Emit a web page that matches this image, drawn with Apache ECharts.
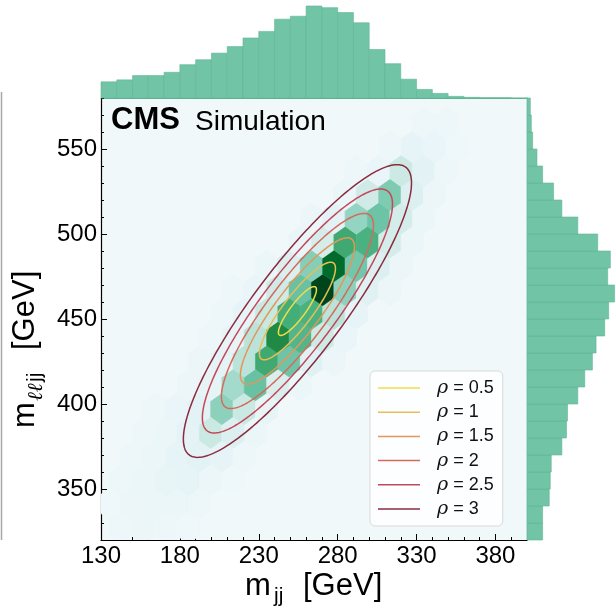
<!DOCTYPE html>
<html>
<head>
<meta charset="utf-8">
<script src="https://cdn.jsdelivr.net/npm/echarts@6/dist/echarts.min.js"></script>
<style>html,body{margin:0;padding:0;background:#fff}#c{width:615px;height:610px}</style>
</head>
<body>
<div id="c"></div>
<script>
// ---------------- data ----------------
// hexbin cells: [m_jj centre (GeV), m_lljj centre (GeV), relative count (0-100)]
const hexCells = [
  [142.7,327.2,3],[156.9,327.2,4],[171.1,327.2,3],[185.3,327.2,2],
  [135.6,341.2,2],[149.8,341.2,4],[164.0,341.2,5],[178.2,341.2,5],[192.4,341.2,3],
  [142.7,355.2,3],[156.9,355.2,5],[171.1,355.2,7],[185.3,355.2,8],[199.5,355.2,4],[213.7,355.2,2],
  [149.8,369.2,3],[164.0,369.2,5],[178.2,369.2,8],[192.4,369.2,12],[206.6,369.2,8],[220.8,369.2,3],
  [156.9,383.2,3],[171.1,383.2,5],[185.3,383.2,10],[199.5,383.2,24],[213.7,383.2,15],[227.9,383.2,5],
  [164.0,397.2,3],[178.2,397.2,6],[192.4,397.2,12],[206.6,397.2,40],[220.8,397.2,24],[235.0,397.2,7],
  [185.3,411.2,4],[199.5,411.2,9],[213.7,411.2,34],[227.9,411.2,50],[242.1,411.2,17],[256.3,411.2,5],
  [192.4,425.2,4],[206.6,425.2,10],[220.8,425.2,28],[235.0,425.2,64],[249.2,425.2,48],[263.4,425.2,14],[277.6,425.2,4],
  [199.5,439.2,3],[213.7,439.2,8],[227.9,439.2,28],[242.1,439.2,76],[256.3,439.2,57],[270.5,439.2,22],[284.7,439.2,6],
  [206.6,453.2,3],[220.8,453.2,8],[235.0,453.2,25],[249.2,453.2,62],[263.4,453.2,60],[277.6,453.2,28],[291.8,453.2,8],
  [213.7,467.2,3],[227.9,467.2,6],[242.1,467.2,21],[256.3,467.2,50],[270.5,467.2,100],[284.7,467.2,40],[298.9,467.2,14],[313.1,467.2,4],
  [235.0,481.2,5],[249.2,481.2,16],[263.4,481.2,42],[277.6,481.2,88],[291.8,481.2,47],[306.0,481.2,15],[320.2,481.2,4],
  [256.3,495.2,6],[270.5,495.2,19],[284.7,495.2,64],[298.9,495.2,60],[313.1,495.2,19],[327.3,495.2,5],
  [263.4,509.2,4],[277.6,509.2,12],[291.8,509.2,38],[306.0,509.2,49],[320.2,509.2,19],[334.4,509.2,5],
  [284.7,523.2,5],[298.9,523.2,21],[313.1,523.2,44],[327.3,523.2,15],[341.5,523.2,4],
  [291.8,537.2,3],[306.0,537.2,6],[320.2,537.2,23],[334.4,537.2,12],[348.6,537.2,3],
  [313.1,551.2,3],[327.3,551.2,8],[341.5,551.2,6],[355.7,551.2,2],
  [334.4,565.2,3],[348.6,565.2,3]
];
const hexWidth = 14.2;     // GeV, hexagon width in m_jj
const hexRowStep = 14.0;   // GeV, distance between hex rows in m_lljj

// contour levels and fitted Gaussian parameters
const rhoLevels = [0.5, 1, 1.5, 2, 2.5, 3];
const rhoNames = ['ρ = 0.5', 'ρ = 1', 'ρ = 1.5', 'ρ = 2', 'ρ = 2.5', 'ρ = 3'];
const rhoColors = ['#efdc48', '#ebbd55', '#e3975a', '#d66a5c', '#c4485a', '#8c2b3e'];
const ellCenter = [254.5, 454.7];
const ellSigX = 24.1, ellSigY = 28.7, ellCorr = 0.875;

// marginal histogram of m_jj (bin lower edges, width 10 GeV)
const mjjBinLow = [130,140,150,160,170,180,190,200,210,220,230,240,250,260,270,280,290,300,310,320,330,340,350,360,370,380,390];
const mjjCounts = [49,55,68,68,78,101,116,136,156,182,202,239,248,279,274,259,228,147,104,57,26,14,5,2,1,1,0];
// marginal histogram of m_lljj (bin lower edges, width 10 GeV)
const mlljjBinLow = [320,330,340,350,360,370,380,390,400,410,420,430,440,450,460,470,480,490,500,510,520,530,540,550,560,570];
const mlljjCounts = [47,47,67,70,73,105,119,122,153,174,197,208,234,246,264,243,251,213,153,105,80,47,30,17,13,10];
const binWidth = 10;

// tick labels
const xMajor = [130,180,230,280,330,380];
const xMinor = [140,150,160,170,190,200,210,220,240,250,260,270,290,300,310,320,340,350,360,370,390,400];
const yMajor = [350,400,450,500,550];
const yMinor = [330,340,360,370,380,390,410,420,430,440,460,470,480,490,510,520,530,540,560,570,580];

// ---------------- chart ----------------
const FONT = '"Liberation Sans", Arial, sans-serif';
const chart = echarts.init(document.getElementById('c'), null, {renderer: 'canvas'});

function renderHex(params, api) {
  const c = api.coord([api.value(0), api.value(1)]);
  const w = api.size([hexWidth / 2, 0])[0];
  const h = api.size([0, hexRowStep])[1];
  const col = api.visual('color');
  const pts = [
    [c[0] + w, c[1] - h / 3], [c[0] + w, c[1] + h / 3], [c[0], c[1] + 2 * h / 3],
    [c[0] - w, c[1] + h / 3], [c[0] - w, c[1] - h / 3], [c[0], c[1] - 2 * h / 3]
  ];
  return {type: 'polygon', shape: {points: pts}, style: {fill: col, stroke: col, lineWidth: 0.6}};
}

function renderEllipse(params, api) {
  const rho = api.value(0);
  const pts = [];
  const s = Math.sqrt(1 - ellCorr * ellCorr);
  for (let i = 0; i <= 240; i++) {
    const t = i / 240 * 2 * Math.PI;
    const dx = rho * ellSigX * Math.cos(t);
    const dy = rho * ellSigY * (ellCorr * Math.cos(t) + s * Math.sin(t));
    pts.push(api.coord([ellCenter[0] + dx, ellCenter[1] + dy]));
  }
  return {type: 'polyline', shape: {points: pts}, style: {stroke: api.visual('color'), lineWidth: 1.5, fill: null}};
}

function renderTopHist(params, api) {
  const p0 = api.coord([api.value(0), 0]);
  const p1 = api.coord([api.value(0) + binWidth, api.value(1)]);
  return {type: 'rect', shape: {x: p0[0], y: p1[1], width: p1[0] - p0[0], height: p0[1] - p1[1]},
    style: {fill: '#72c4a6', stroke: '#5fb596', lineWidth: 0.6}};
}
function renderRightHist(params, api) {
  const p0 = api.coord([0, api.value(0)]);
  const p1 = api.coord([api.value(1), api.value(0) + binWidth]);
  return {type: 'rect', shape: {x: p0[0], y: p1[1], width: p1[0] - p0[0], height: p0[1] - p1[1]},
    style: {fill: '#72c4a6', stroke: '#5fb596', lineWidth: 0.6}};
}

const series = [{
  type: 'custom', name: 'hex', xAxisIndex: 0, yAxisIndex: 0, clip: true, z: 1,
  renderItem: renderHex, data: hexCells, silent: true
}];
rhoLevels.forEach((r, i) => {
  series.push({
    type: 'custom', name: rhoNames[i], xAxisIndex: 0, yAxisIndex: 0, clip: true, z: 3,
    itemStyle: {color: rhoColors[i]}, renderItem: renderEllipse, data: [[r]], silent: true
  });
});
series.push({
  type: 'custom', name: 'mjj', xAxisIndex: 2, yAxisIndex: 2, renderItem: renderTopHist,
  data: mjjBinLow.map((b, i) => [b, mjjCounts[i]]), silent: true
});
series.push({
  type: 'custom', name: 'mlljj', xAxisIndex: 3, yAxisIndex: 3, renderItem: renderRightHist,
  data: mlljjBinLow.map((b, i) => [b, mlljjCounts[i]]), silent: true
});

const labelStyle = {color: '#000', fontFamily: FONT, fontSize: 24};

const option = {
  backgroundColor: '#ffffff',
  animation: false,
  grid: [
    {left: 101, top: 98, width: 426, height: 442, show: true, backgroundColor: '#f0f8fa', borderWidth: 0},
    {left: 101, top: 5, width: 426, height: 93},
    {left: 527, top: 98, width: 88, height: 442}
  ],
  xAxis: [
    {gridIndex: 0, type: 'value', min: 130, max: 400, position: 'bottom',
      axisLine: {show: true, lineStyle: {color: '#000', width: 1.2}},
      axisTick: {show: true, inside: true, length: 6, lineStyle: {color: '#000'}, customValues: xMajor},
      axisLabel: Object.assign({margin: 4, customValues: xMajor}, labelStyle),
      splitLine: {show: false}},
    {gridIndex: 0, type: 'value', min: 130, max: 400, position: 'bottom',
      axisLine: {show: false},
      axisTick: {show: true, inside: true, length: 3, lineStyle: {color: '#000'}, customValues: xMinor},
      axisLabel: {show: false}, splitLine: {show: false}},
    {gridIndex: 1, type: 'value', min: 130, max: 400, position: 'bottom',
      axisLine: {show: true, lineStyle: {color: '#5fb596', width: 1.2}},
      axisTick: {show: false}, axisLabel: {show: false}, splitLine: {show: false}},
    {gridIndex: 2, type: 'value', min: 0, max: 265,
      axisLine: {show: false}, axisTick: {show: false}, axisLabel: {show: false}, splitLine: {show: false}}
  ],
  yAxis: [
    {gridIndex: 0, type: 'value', min: 320, max: 580, position: 'left',
      axisLine: {show: true, lineStyle: {color: '#000', width: 1.2}},
      axisTick: {show: true, inside: true, length: 6, lineStyle: {color: '#000'}, customValues: yMajor},
      axisLabel: Object.assign({margin: 4, customValues: yMajor}, labelStyle),
      splitLine: {show: false}},
    {gridIndex: 0, type: 'value', min: 320, max: 580, position: 'left',
      axisLine: {show: false},
      axisTick: {show: true, inside: true, length: 3, lineStyle: {color: '#000'}, customValues: yMinor},
      axisLabel: {show: false}, splitLine: {show: false}},
    {gridIndex: 1, type: 'value', min: 0, max: 282,
      axisLine: {show: false}, axisTick: {show: false}, axisLabel: {show: false}, splitLine: {show: false}},
    {gridIndex: 2, type: 'value', min: 320, max: 580, position: 'left',
      axisLine: {show: true, lineStyle: {color: '#5fb596', width: 1.2}},
      axisTick: {show: false}, axisLabel: {show: false}, splitLine: {show: false}}
  ],
  visualMap: {
    type: 'continuous', show: false, seriesIndex: 0, dimension: 2, min: 0, max: 100,
    inRange: {color: ['#f0f8fa', '#e2f2f5', '#c8e8e0', '#96d5c4', '#68c1a2', '#43ad77', '#248b48', '#016d2d', '#00441b']}
  },
  legend: {
    data: rhoNames, orient: 'vertical', left: 370, top: 371,
    icon: 'rect', itemWidth: 42, itemHeight: 1.5, itemGap: 4.2,
    padding: [7, 9, 7, 8],
    backgroundColor: 'rgba(255,255,255,0.85)', borderColor: '#d9d9d9', borderWidth: 1, borderRadius: 5,
    selectedMode: false,
    formatter: n => n.replace('ρ', '{r|ρ}'),
    textStyle: {
      fontFamily: FONT, fontSize: 18, color: '#111', lineHeight: 20, padding: [0, 0, 0, 12],
      rich: {r: {fontFamily: '"DejaVu Serif", serif', fontStyle: 'italic', fontSize: 19, color: '#111'}}
    }
  },
  graphic: [
    {type: 'line', shape: {x1: 1.5, y1: 92, x2: 1.5, y2: 540}, style: {stroke: '#a8a8a8', lineWidth: 1.5}, z: 10},
    {type: 'text', x: 111, y: 136, z: 10, style: {text: 'CMS', font: 'bold 31px ' + FONT, fill: '#000', verticalAlign: 'bottom'}},
    {type: 'text', x: 195, y: 136, z: 10, style: {text: 'Simulation', font: '28px ' + FONT, fill: '#000', verticalAlign: 'bottom'}},
    // x axis title
    {type: 'text', x: 245, y: 602, z: 10, style: {text: 'm', font: '31px ' + FONT, fill: '#000', verticalAlign: 'bottom'}},
    {type: 'text', x: 274, y: 607, z: 10, style: {text: 'jj', font: '21px ' + FONT, fill: '#000', verticalAlign: 'bottom'}},
    {type: 'text', x: 303, y: 602, z: 10, style: {text: '[GeV]', font: '31px ' + FONT, fill: '#000', verticalAlign: 'bottom'}},
    // y axis title (rotated)
    {type: 'group', x: 41, y: 428, rotation: Math.PI / 2, z: 10, children: [
      {type: 'text', x: 0, y: 0, style: {text: 'm', font: '31px ' + FONT, fill: '#000', verticalAlign: 'bottom'}},
      {type: 'text', x: 27, y: 6, style: {text: 'ℓℓ', font: 'italic 21px "DejaVu Serif", serif', fill: '#000', verticalAlign: 'bottom'}},
      {type: 'text', x: 46, y: 5, style: {text: 'jj', font: '21px ' + FONT, fill: '#000', verticalAlign: 'bottom'}},
      {type: 'text', x: 78, y: 0, style: {text: '[GeV]', font: '31px ' + FONT, fill: '#000', verticalAlign: 'bottom'}}
    ]}
  ],
  series: series
};
chart.setOption(option);
</script>
</body>
</html>
